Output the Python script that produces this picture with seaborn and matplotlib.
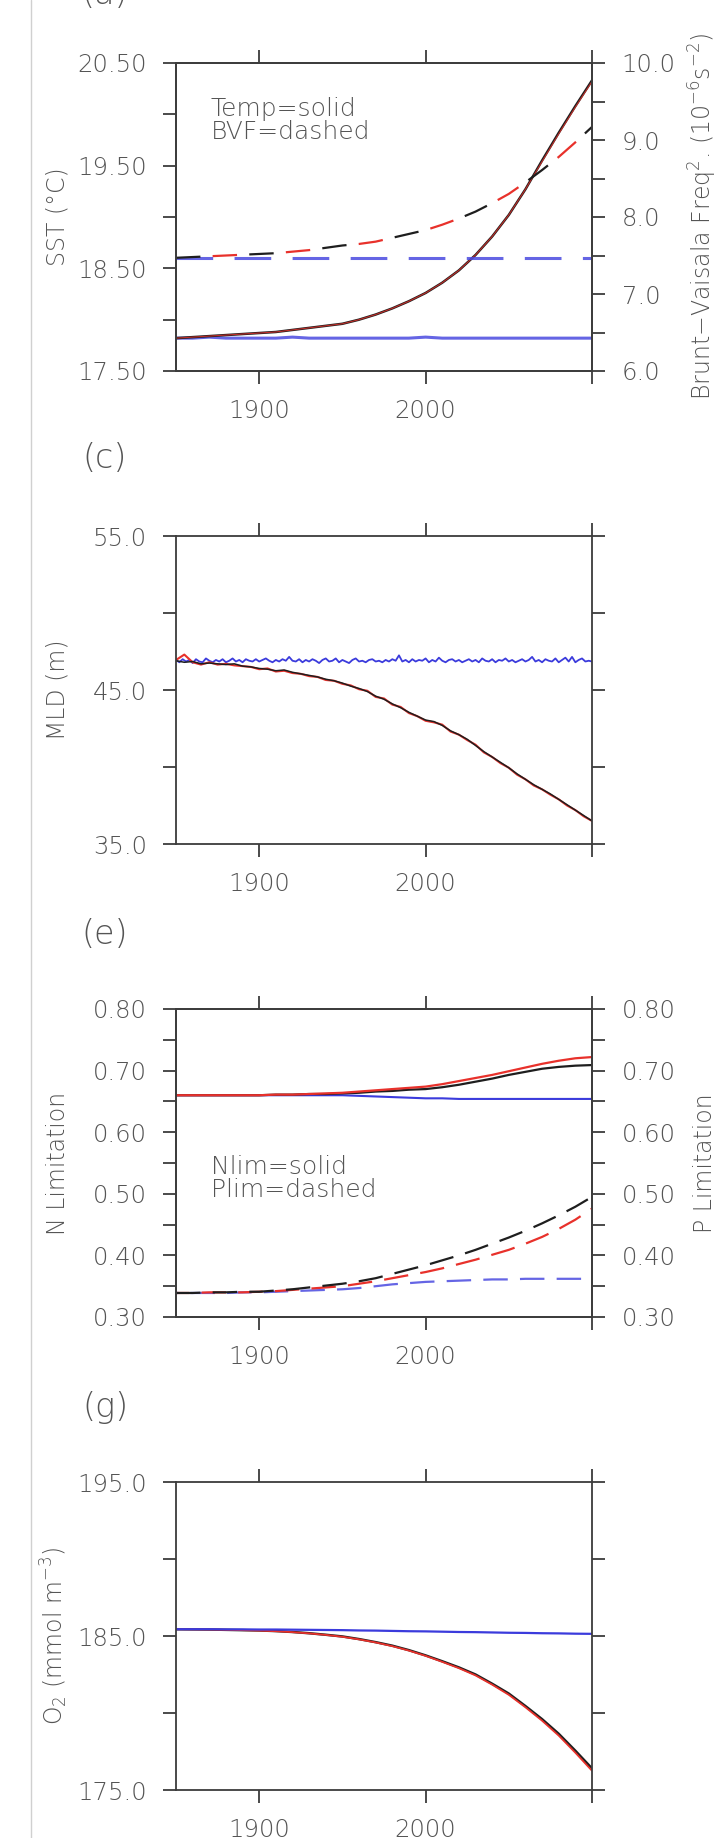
import numpy as np
import pandas as pd
import matplotlib
matplotlib.use('Agg')
import matplotlib.pyplot as plt
from matplotlib.lines import Line2D
import seaborn as sns

sns.set_style('ticks')
plt.rcParams['font.family'] = ['DejaVu Sans']
plt.rcParams['font.weight'] = 'light'
plt.rcParams['axes.labelweight'] = 'light'
plt.rcParams['mathtext.fontset'] = 'dejavusans'

TXT = '#555555'
SPINE = '#3c3c3c'
BLACK = '#1e1e1e'
RED = '#e8312b'
BLUE = '#3b3bdc'

# x positions
years10 = np.arange(1850, 2101, 10)
years5 = np.arange(1850, 2101, 5)
years2 = np.arange(1850, 2101, 2)

# (a) SST (solid, left axis) and Brunt-Vaisala freq^2 (dashed, right axis)
sst_black = [17.82, 17.83, 17.84, 17.85, 17.86, 17.87, 17.88, 17.90, 17.92, 17.94, 17.96, 18.00, 18.05,
             18.11, 18.18, 18.26, 18.36, 18.48, 18.63, 18.81, 19.02, 19.27, 19.55, 19.82, 20.08, 20.33]
sst_red = [17.82, 17.83, 17.84, 17.85, 17.86, 17.87, 17.88, 17.90, 17.92, 17.94, 17.96, 18.00, 18.05,
           18.11, 18.18, 18.26, 18.36, 18.48, 18.63, 18.81, 19.02, 19.27, 19.54, 19.81, 20.07, 20.32]
sst_blue = [17.82, 17.82, 17.83, 17.82, 17.82, 17.82, 17.82, 17.83, 17.82, 17.82, 17.82, 17.82, 17.82,
            17.82, 17.82, 17.83, 17.82, 17.82, 17.82, 17.82, 17.82, 17.82, 17.82, 17.82, 17.82, 17.82]
bvf_black = [7.47, 7.48, 7.49, 7.50, 7.51, 7.52, 7.53, 7.55, 7.57, 7.60, 7.63, 7.65, 7.68,
             7.73, 7.78, 7.83, 7.90, 7.98, 8.07, 8.18, 8.30, 8.45, 8.61, 8.78, 8.97, 9.17]
bvf_red = [7.47, 7.48, 7.49, 7.50, 7.51, 7.52, 7.53, 7.55, 7.57, 7.60, 7.63, 7.65, 7.68,
           7.73, 7.78, 7.83, 7.90, 7.98, 8.07, 8.18, 8.30, 8.45, 8.61, 8.78, 8.97, 9.17]
bvf_blue = [7.47] * 26

# (c) MLD
mld_black = [46.90, 46.80, 46.85, 46.70, 46.75, 46.70, 46.65, 46.70, 46.55, 46.50,
             46.40, 46.35, 46.25, 46.30, 46.15, 46.05, 45.95, 45.85, 45.70, 45.60,
             45.45, 45.25, 45.10, 44.90, 44.60, 44.40, 44.10, 43.85, 43.55, 43.30,
             43.05, 42.95, 42.70, 42.35, 42.10, 41.80, 41.40, 41.00, 40.65, 40.30,
             39.95, 39.55, 39.20, 38.85, 38.55, 38.25, 37.90, 37.55, 37.20, 36.85, 36.50]
mld_red = [46.95, 47.30, 46.80, 46.65, 46.80, 46.65, 46.70, 46.60, 46.55, 46.50,
           46.35, 46.40, 46.20, 46.25, 46.10, 46.05, 45.90, 45.85, 45.65, 45.60,
           45.40, 45.30, 45.05, 44.95, 44.55, 44.45, 44.05, 43.90, 43.50, 43.30,
           43.00, 42.90, 42.75, 42.30, 42.10, 41.75, 41.45, 40.95, 40.65, 40.25,
           39.95, 39.50, 39.20, 38.80, 38.55, 38.20, 37.90, 37.50, 37.20, 36.80, 36.50]
mld_blue = [46.95, 46.80, 47.00, 46.85, 46.95, 46.75, 47.00, 46.85, 46.80, 47.05, 46.90, 46.80,
            46.95, 46.85, 47.00, 46.80, 46.90, 47.05, 46.85, 46.95, 46.80, 47.00, 46.90, 46.85,
            47.00, 46.85, 46.95, 47.05, 46.90, 46.80, 46.95, 46.85, 47.00, 46.90, 47.15, 46.90,
            46.85, 47.00, 46.80, 46.95, 46.85, 47.00, 46.90, 46.75, 46.95, 47.05, 46.85, 46.90,
            47.05, 46.80, 46.95, 46.85, 46.75, 46.95, 47.05, 46.85, 46.90, 46.80, 46.95, 47.00,
            46.85, 46.90, 46.80, 46.95, 46.85, 47.00, 46.90, 47.25, 46.85, 46.95, 46.80, 47.00,
            46.85, 46.95, 46.90, 47.05, 46.80, 46.95, 46.85, 47.10, 46.90, 46.80, 46.95, 47.00,
            46.85, 46.95, 46.80, 46.90, 47.00, 46.85, 46.95, 46.80, 47.05, 46.90, 46.85, 47.00,
            46.80, 46.95, 46.90, 47.05, 46.85, 46.95, 46.80, 46.90, 47.00, 46.85, 46.95, 47.15,
            46.85, 46.95, 46.80, 47.00, 46.90, 46.85, 47.05, 46.80, 46.95, 47.10, 46.85, 47.15,
            46.80, 46.95, 47.05, 46.85, 46.90, 46.85]

# (e) N limitation (solid) and P limitation (dashed)
n_black = [.660, .660, .660, .660, .660, .660, .661, .661, .662, .662, .663, .664, .666,
           .667, .669, .670, .673, .677, .682, .687, .693, .698, .703, .706, .708, .709]
n_red = [.660, .660, .660, .660, .660, .660, .661, .661, .662, .663, .664, .666, .668,
         .670, .672, .674, .678, .683, .688, .693, .699, .705, .711, .716, .720, .722]
n_blue = [.660, .660, .660, .660, .660, .660, .660, .660, .660, .660, .660, .659, .658,
          .657, .656, .655, .655, .654, .654, .654, .654, .654, .654, .654, .654, .654]
p_black = [.339, .339, .340, .340, .341, .341, .343, .345, .348, .351, .354, .358, .363,
           .370, .377, .384, .392, .400, .409, .419, .429, .440, .452, .465, .479, .495]
p_red = [.339, .339, .340, .340, .340, .341, .342, .344, .346, .348, .350, .354, .358,
         .363, .368, .373, .379, .386, .393, .401, .409, .419, .430, .443, .458, .476]
p_blue = [.339, .339, .339, .339, .340, .340, .341, .342, .343, .344, .345, .347, .350,
          .353, .355, .357, .358, .359, .360, .361, .361, .362, .362, .362, .362, .362]

# (g) O2
o2_black = [185.44, 185.43, 185.42, 185.40, 185.38, 185.36, 185.32, 185.26, 185.18, 185.08, 184.97, 184.80, 184.60,
            184.37, 184.08, 183.74, 183.36, 182.96, 182.50, 181.90, 181.26, 180.45, 179.60, 178.65, 177.55, 176.40]
o2_red = [185.44, 185.43, 185.42, 185.40, 185.38, 185.35, 185.31, 185.25, 185.17, 185.07, 184.95, 184.78, 184.58,
          184.34, 184.05, 183.71, 183.32, 182.91, 182.44, 181.84, 181.18, 180.37, 179.50, 178.53, 177.42, 176.25]
o2_blue = [185.44, 185.44, 185.44, 185.43, 185.43, 185.42, 185.42, 185.41, 185.40, 185.39, 185.38, 185.36, 185.35,
           185.33, 185.31, 185.30, 185.28, 185.26, 185.25, 185.23, 185.21, 185.20, 185.18, 185.17, 185.15, 185.14]

W, H = 719, 1838
fig = plt.figure(figsize=(W / 100, H / 100), dpi=100)
fig.patch.set_facecolor('white')

left, right = 176, 592
tops = [63, 536, 1009, 1482]
ph = 308
TICKLEN = 9.4   # points (13 px)


def make_ax(top):
    return fig.add_axes([left / W, 1 - (top + ph) / H, (right - left) / W, ph / H])


def style_y(ax, lo, hi, step, fmt, side='left'):
    ticks = np.arange(lo, hi + step / 2, step)
    ax.set_ylim(lo, hi)
    ax.set_yticks(ticks)
    ax.set_yticklabels([fmt.format(v) if i % 2 == 0 else '' for i, v in enumerate(ticks)])
    ax.tick_params(axis='y', direction='out', length=TICKLEN, width=1.3, colors=SPINE,
                   labelcolor=TXT, labelsize=17.5, pad=11.5 if side == 'left' else 12)


def style_x(ax):
    ax.set_xlim(1850, 2100)
    ax.set_xticks([1900, 2000, 2100])
    ax.set_xticklabels(['1900', '2000', ''])
    ax.tick_params(axis='x', direction='out', length=TICKLEN, width=1.3, colors=SPINE,
                   labelcolor=TXT, labelsize=17.5, pad=11, top=True)
    for s in ax.spines.values():
        s.set_color(SPINE)
        s.set_linewidth(1.3)
    ax.set_xlabel('')


def line(ax, x, y, color, lw=1.5, ls='-', alpha=1.0):
    sns.lineplot(x=x, y=y, ax=ax, color=color, lw=lw, linestyle=ls, alpha=alpha,
                 estimator=None, legend=False)


def ylab(ax, text, x):
    ax.set_ylabel(text, fontsize=17, color=TXT)
    ax.yaxis.set_label_coords(x, 0.5)


# ---- (a)
ax1 = make_ax(tops[0])
line(ax1, years10, sst_blue, '#4a4ae0', lw=2.2, alpha=0.85)
line(ax1, years10, sst_black, BLACK, lw=1.8)
line(ax1, years10, sst_red, RED, lw=0.8, alpha=0.8)
style_x(ax1)
style_y(ax1, 17.5, 20.5, 0.5, '{:.2f}')
ax1.tick_params(axis='y', right=False)
ylab(ax1, 'SST (°C)', -0.255)
ax1.text(0.084, 0.89, 'Temp=solid\nBVF=dashed', transform=ax1.transAxes, ha='left', va='top',
         fontsize=18, color=TXT, linespacing=0.95)
tw1 = ax1.twinx()
line(tw1, years10, bvf_blue, '#4a4ae0', lw=2.2, ls=(0, (12, 7)), alpha=0.85)
line(tw1, years10, bvf_black, BLACK, lw=1.6, ls=(0, (11, 22)))
line(tw1, years10, bvf_red, RED, lw=1.6, ls=(16.5, (11, 22)))
style_x(tw1)
style_y(tw1, 6.0, 10.0, 0.5, '{:.1f}', side='right')
tw1.set_ylabel(r'Brunt$-$Vaisala Freq$^2$. (10$^{-6}$s$^{-2}$)', fontsize=17, color=TXT)
tw1.yaxis.set_label_coords(1.228, 0.5)

# ---- (c)
ax2 = make_ax(tops[1])
line(ax2, years2, mld_blue, BLUE, lw=1.3)
line(ax2, years5, mld_red, RED, lw=1.5)
line(ax2, years5, mld_black, BLACK, lw=1.1)
style_x(ax2)
style_y(ax2, 35.0, 55.0, 5.0, '{:.1f}')
ax2.tick_params(axis='y', right=True)
ylab(ax2, 'MLD (m)', -0.255)

# ---- (e)
ax3 = make_ax(tops[2])
line(ax3, years10, n_blue, BLUE, lw=1.5)
line(ax3, years10, n_black, BLACK, lw=1.6)
line(ax3, years10, n_red, RED, lw=1.6)
style_x(ax3)
style_y(ax3, 0.30, 0.80, 0.05, '{:.2f}')
ax3.tick_params(axis='y', right=False)
ylab(ax3, 'N Limitation', -0.255)
ax3.text(0.084, 0.526, 'Nlim=solid\nPlim=dashed', transform=ax3.transAxes, ha='left', va='top',
         fontsize=18, color=TXT, linespacing=0.95)
tw3 = ax3.twinx()
line(tw3, years10, p_blue, '#4a4ae0', lw=1.6, ls=(10, (11, 5.5)), alpha=0.85)
line(tw3, years10, p_red, RED, lw=1.6, ls=(5, (11, 5.5)))
line(tw3, years10, p_black, BLACK, lw=1.6, ls=(0, (11, 5.5)))
style_x(tw3)
style_y(tw3, 0.30, 0.80, 0.05, '{:.2f}', side='right')
tw3.set_ylabel('P Limitation', fontsize=17, color=TXT)
tw3.yaxis.set_label_coords(1.243, 0.5)

# ---- (g)
ax4 = make_ax(tops[3])
line(ax4, years10, o2_black, BLACK, lw=1.8)
line(ax4, years10, o2_red, RED, lw=1.3)
line(ax4, years10, o2_blue, BLUE, lw=1.6)
style_x(ax4)
style_y(ax4, 175.0, 195.0, 5.0, '{:.1f}')
ax4.tick_params(axis='y', right=True)
ylab(ax4, r'O$_2$ (mmol m$^{-3}$)', -0.255)

# panel letters
fig.text(105 / W, 1 - 4 / H, '(a)', ha='center', va='baseline', fontsize=24, color=TXT)
for lab, yc in [('(c)', 458), ('(e)', 935), ('(g)', 1408)]:
    fig.text(105 / W, 1 - yc / H, lab, ha='center', va='center', fontsize=24, color=TXT)

# faint page border on the left
fig.add_artist(Line2D([31 / W, 31 / W], [0, 1], color='#d0d0d0', lw=1))

fig.savefig('out.png', dpi=100)
